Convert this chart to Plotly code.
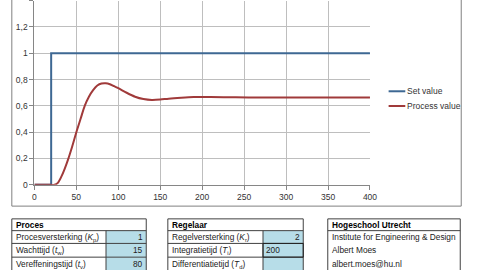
import plotly.graph_objects as go

# ---- data ----
t_sv = [0, 20, 20, 400]
sv = [0, 0, 1, 1]

t_pv = [0, 20, 24, 28, 32, 36, 40, 45, 50, 55, 60, 65, 70, 75, 80, 85, 90, 95, 100,
        110, 120, 130, 140, 150, 160, 175, 190, 210, 240, 270, 300, 350, 400]
pv = [0, 0, 0, 0.015, 0.06, 0.12, 0.19, 0.29, 0.40, 0.50, 0.60, 0.67, 0.72, 0.755, 0.77,
      0.772, 0.765, 0.75, 0.735, 0.70, 0.67, 0.652, 0.645, 0.648, 0.655, 0.662, 0.667,
      0.668, 0.665, 0.664, 0.664, 0.664, 0.664]

y_ticks = [0, 0.2, 0.4, 0.6, 0.8, 1.0, 1.2, 1.4]
y_ticktext = ["0", "0,2", "0,4", "0,6", "0,8", "1", "1,2", "1,4"]
x_ticks = [0, 50, 100, 150, 200, 250, 300, 350, 400]

series_names = ["Set value", "Process value"]
series_colors = ["#3E6893", "#A03A3A"]

proces_labels = ["Procesversterking (<i>K</i><sub>p</sub>)", "Wachttijd (<i>t</i><sub>w</sub>)",
                 "Vereffeningstijd (<i>t</i><sub>v</sub>)"]
proces_values = ["1", "15", "80"]
regelaar_labels = ["Regelversterking (<i>K</i><sub>r</sub>)", "Integratietijd (<i>T</i><sub>i</sub>)",
                   "Differentiatietijd (<i>T</i><sub>d</sub>)"]
regelaar_values = ["2", "200", ""]
hs_lines = ["Institute for Engineering & Design", "Albert Moes", "albert.moes@hu.nl"]

W, H = 480, 270
def px(x): return x / W
def py(y): return 1 - y / H

FONT = "Liberation Sans"
FS = 8.3
fig = go.Figure()
fig.add_trace(go.Scatter(x=t_sv, y=sv, mode="lines", name=series_names[0],
                         line=dict(color=series_colors[0], width=2)))
fig.add_trace(go.Scatter(x=t_pv, y=pv, mode="lines", name=series_names[1],
                         line=dict(color=series_colors[1], width=2, shape="spline", smoothing=0.8)))

shapes = []
annots = []
# chart border
shapes.append(dict(type="rect", xref="paper", yref="paper", x0=px(10), x1=px(468),
                   y0=py(210), y1=py(-3), line=dict(color="#808080", width=1)))
# legend
leg_y = [93, 108]
for name, col, yy in zip(series_names, series_colors, leg_y):
    shapes.append(dict(type="line", xref="paper", yref="paper", x0=px(394), x1=px(411),
                       y0=py(yy), y1=py(yy), line=dict(color=col, width=2)))
    annots.append(dict(xref="paper", yref="paper", x=px(411), y=py(yy), text=name,
                       showarrow=False, xanchor="left", yanchor="middle",
                       font=dict(family=FONT, size=8.5, color="#333333")))

BORDER = "#404040"
rows_y = [223, 235, 248, 262, 276]
def table(x0, xv, x1, title, labels, values, left_align_idx=None):
    for i in range(len(labels)):
        shapes.append(dict(type="rect", xref="paper", yref="paper", x0=px(xv), x1=px(x1),
                           y0=py(rows_y[i + 2]), y1=py(rows_y[i + 1]),
                           fillcolor="#B7DDE8", line=dict(width=0), layer="below"))
    for yy in rows_y:
        shapes.append(dict(type="line", xref="paper", yref="paper", x0=px(x0), x1=px(x1),
                           y0=py(yy), y1=py(yy), line=dict(color=BORDER, width=1)))
    for xx in (x0, x1):
        shapes.append(dict(type="line", xref="paper", yref="paper", x0=px(xx), x1=px(xx),
                           y0=py(rows_y[0]), y1=py(rows_y[-1]), line=dict(color=BORDER, width=1)))
    shapes.append(dict(type="line", xref="paper", yref="paper", x0=px(xv), x1=px(xv),
                       y0=py(rows_y[1]), y1=py(rows_y[-1]), line=dict(color=BORDER, width=1)))
    annots.append(dict(xref="paper", yref="paper", x=px(x0 + 2), y=py((rows_y[0] + rows_y[1]) / 2),
                       text="<b>" + title + "</b>", showarrow=False, xanchor="left", yanchor="middle",
                       font=dict(family=FONT, size=FS, color="#000000")))
    for i, (lab, val) in enumerate(zip(labels, values)):
        yc = py((rows_y[i + 1] + rows_y[i + 2]) / 2)
        annots.append(dict(xref="paper", yref="paper", x=px(x0 + 2), y=yc, text=lab,
                           showarrow=False, xanchor="left", yanchor="middle",
                           font=dict(family=FONT, size=FS, color="#222222")))
        if val:
            if i == left_align_idx:
                annots.append(dict(xref="paper", yref="paper", x=px(xv + 1), y=yc, text=val,
                                   showarrow=False, xanchor="left", yanchor="middle",
                                   font=dict(family=FONT, size=FS, color="#222222")))
            else:
                annots.append(dict(xref="paper", yref="paper", x=px(x1 - 1), y=yc, text=val,
                                   showarrow=False, xanchor="right", yanchor="middle",
                                   font=dict(family=FONT, size=FS, color="#222222")))

table(10, 106, 147, "Proces", proces_labels, proces_values)
table(169, 266, 307, "Regelaar", regelaar_labels, regelaar_values, left_align_idx=1)
shapes.append(dict(type="rect", xref="paper", yref="paper", x0=px(266), x1=px(307),
                   y0=py(262), y1=py(248), line=dict(color="#222222", width=1)))

hx0, hx1 = 332, 467
shapes.append(dict(type="rect", xref="paper", yref="paper", x0=px(hx0), x1=px(hx1),
                   y0=py(276), y1=py(223), line=dict(color=BORDER, width=1)))
shapes.append(dict(type="line", xref="paper", yref="paper", x0=px(hx0), x1=px(hx1),
                   y0=py(235), y1=py(235), line=dict(color=BORDER, width=1)))
annots.append(dict(xref="paper", yref="paper", x=px(hx0 + 2), y=py(229),
                   text="<b>Hogeschool Utrecht</b>", showarrow=False, xanchor="left",
                   yanchor="middle", font=dict(family=FONT, size=FS, color="#000000")))
for i, s in enumerate(hs_lines):
    annots.append(dict(xref="paper", yref="paper", x=px(hx0 + 2),
                       y=py((rows_y[i + 1] + rows_y[i + 2]) / 2), text=s, showarrow=False,
                       xanchor="left", yanchor="middle",
                       font=dict(family=FONT, size=FS, color="#222222")))

fig.update_layout(
    width=W, height=H, margin=dict(l=0, r=0, t=0, b=0),
    paper_bgcolor="white", plot_bgcolor="white", showlegend=False,
    shapes=shapes, annotations=annots,
    xaxis=dict(domain=[px(33), px(375)], range=[0, 400], tickvals=x_ticks,
               showgrid=True, gridcolor="#BEBEBE", gridwidth=1, zeroline=False,
               showline=True, linecolor="#868686", ticks="outside", ticklen=4,
               tickcolor="#868686", tickfont=dict(family=FONT, size=8.5, color="#333333")),
    yaxis=dict(domain=[1 - 188.3 / H, 1 - 0.7 / H], range=[0, 1.4], tickvals=y_ticks,
               ticktext=y_ticktext, showgrid=True, gridcolor="#BEBEBE", gridwidth=1,
               zeroline=False, showline=True, linecolor="#868686", ticks="outside",
               ticklen=4, tickcolor="#868686",
               tickfont=dict(family=FONT, size=8.5, color="#333333")),
)
fig.write_html("out.html")
